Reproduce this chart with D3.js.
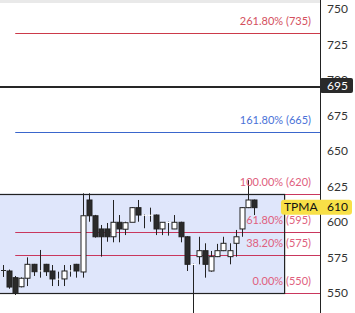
<!DOCTYPE html>
<html>
<head>
<meta charset="utf-8">
<script src="https://cdn.jsdelivr.net/npm/d3@7"></script>
<style>
  body { margin: 0; background: #fff; }
  svg { display: block; font-family: Lato, "Open Sans", sans-serif; }
</style>
</head>
<body>
<svg id="chart"></svg>
<script>
// candle data (index along x)
const opens  = [566.2, 565.5, 560.8, 554.4, 560.4, 570.2, 565.7, 570.2, 565.5, 559.9, 559.9, 565.7, 570.2, 564.8, 615.5, 604.4, 595.1, 595.1, 589.6, 599.8, 594.9, 599.8, 610.1, 604.9, 604.9, 604.9, 595.1, 599.8, 595.1, 599.8, 589.6, 570.2, 575.6, 579.8, 565.5, 575.6, 579.8, 575.6, 585.0, 595.1, 610.1, 615.5];
const closes = [566.0, 554.2, 550.2, 560.4, 570.2, 565.0, 565.9, 565.0, 559.9, 560.1, 565.5, 565.9, 565.5, 604.4, 604.4, 589.6, 589.6, 589.6, 599.8, 595.1, 599.5, 610.1, 604.9, 605.1, 605.1, 595.1, 599.8, 600.0, 599.8, 589.6, 570.2, 570.4, 579.8, 570.2, 575.6, 579.8, 585.0, 579.8, 589.6, 610.1, 615.5, 610.1];
const highs  = [569.7, 566.5, 562.0, 561.0, 575.1, 570.5, 580.3, 570.5, 569.7, 565.0, 569.7, 569.7, 570.5, 620.2, 620.2, 605.0, 597.9, 599.3, 615.5, 604.9, 600.2, 610.5, 615.5, 605.3, 610.1, 605.3, 600.0, 600.2, 604.9, 600.2, 590.0, 570.6, 589.6, 585.0, 579.6, 584.6, 589.6, 585.0, 594.4, 610.5, 629.5, 615.8];
const lows   = [561.3, 553.0, 548.6, 554.0, 554.9, 562.0, 560.8, 562.0, 554.9, 554.9, 554.9, 561.5, 560.8, 560.8, 600.2, 589.0, 575.6, 586.1, 585.7, 585.7, 590.8, 609.6, 600.2, 595.6, 600.2, 590.8, 590.8, 590.4, 595.0, 585.7, 565.5, 535.0, 570.2, 560.8, 565.0, 575.3, 579.5, 570.2, 575.6, 589.6, 609.8, 604.9];

// fibonacci levels
const fibLow = 550, fibHigh = 620;
const fibRatios = [0, 0.382, 0.618, 1, 1.618, 2.618];
const fibLabels = ["0.00% (550)", "38.20% (575)", "61.80% (595)", "100.00% (620)", "161.80% (665)", "261.80% (735)"];
const fibColors = ["#c9375d", "#c9375d", "#c9375d", "#c9375d", "#3a66cc", "#cc3a4a"];
const fibTextColors = ["#e0607e", "#e0607e", "#e0607e", "#e0607e", "#4a72d8", "#d4505e"];

const yTicks = [550, 575, 600, 625, 650, 675, 700, 725, 750];
const lastPrice = 695;
const tpmaValue = 610;

const W = 355, H = 313, axisX = 320;

const svg = d3.select('#chart').attr('width', W).attr('height', H);

const x = d3.scaleLinear().domain([0, opens.length - 1]).range([3, 254]);
const y = d3.scaleLinear().domain([550, 750]).range([293, 9]);

// light strip at top
svg.append('rect').attr('x', 0).attr('y', 0).attr('width', axisX).attr('height', 3).attr('fill', '#e9e9e9');

// range box (0% -> 100%)
const boxX = x(-1.5), boxW = x(46) - x(-1.5);
svg.append('rect')
  .attr('x', boxX).attr('y', y(fibHigh))
  .attr('width', boxW).attr('height', y(fibLow) - y(fibHigh))
  .attr('fill', '#dfe6fb');

// fib lines + labels
const fibs = fibRatios.map((r, i) => ({
  value: fibLow + r * (fibHigh - fibLow),
  label: fibLabels[i], color: fibColors[i], text: fibTextColors[i]
}));

svg.selectAll('.fib-line')
  .data(fibs)
  .join('line')
  .attr('class', 'fib-line')
  .attr('x1', x(2)).attr('x2', axisX)
  .attr('y1', d => Math.round(y(d.value)) + 0.5)
  .attr('y2', d => Math.round(y(d.value)) + 0.5)
  .attr('stroke', d => d.color)
  .attr('stroke-width', 1);

// box border over the lines
svg.append('rect')
  .attr('x', boxX).attr('y', Math.round(y(fibHigh)) + 0.5)
  .attr('width', boxW).attr('height', Math.round(y(fibLow)) - Math.round(y(fibHigh)))
  .attr('fill', 'none')
  .attr('stroke', '#222')
  .attr('stroke-width', 1.2);

// last price line
svg.append('line')
  .attr('x1', 0).attr('x2', axisX)
  .attr('y1', y(lastPrice)).attr('y2', y(lastPrice))
  .attr('stroke', '#262626').attr('stroke-width', 2);

// candles
const candles = svg.append('g').selectAll('g')
  .data(opens.map((o, i) => ({ i, o, c: closes[i], h: highs[i], l: lows[i] })))
  .join('g');

candles.append('line')
  .attr('x1', d => Math.round(x(d.i)) + 0.5)
  .attr('x2', d => Math.round(x(d.i)) + 0.5)
  .attr('y1', d => y(d.h))
  .attr('y2', d => y(d.l))
  .attr('stroke', '#222')
  .attr('stroke-width', 1);

candles.append('rect')
  .attr('x', d => Math.round(x(d.i)) - 2)
  .attr('width', 5)
  .attr('y', d => y(Math.max(d.o, d.c)))
  .attr('height', d => Math.max(1, Math.abs(y(d.o) - y(d.c))))
  .attr('fill', d => d.c >= d.o ? '#fff' : '#2a2a2a')
  .attr('stroke', '#222')
  .attr('stroke-width', d => Math.abs(d.o - d.c) < 1 ? 0 : 1);

svg.selectAll('.fib-label')
  .data(fibs)
  .join('text')
  .attr('class', 'fib-label')
  .attr('x', 311)
  .attr('y', d => y(d.value) - 8)
  .attr('text-anchor', 'end')
  .attr('font-size', 11)
  .attr('fill', d => d.text)
  .text(d => d.label);

// right axis
svg.append('rect').attr('x', axisX).attr('y', 0).attr('width', W - axisX).attr('height', H).attr('fill', '#fff');
svg.append('line')
  .attr('x1', axisX + 0.5).attr('x2', axisX + 0.5)
  .attr('y1', 0).attr('y2', H)
  .attr('stroke', '#222').attr('stroke-width', 1);

svg.selectAll('.tick-label')
  .data(yTicks)
  .join('text')
  .attr('class', 'tick-label')
  .attr('x', 327)
  .attr('y', d => y(d))
  .attr('dy', '0.35em')
  .attr('font-size', 12)
  .attr('fill', '#333')
  .text(d => d);

// last price badge (hides the 700 tick, as in the source chart)
svg.append('rect')
  .attr('x', axisX).attr('y', y(lastPrice) - 9)
  .attr('width', 33).attr('height', 15).attr('rx', 2)
  .attr('fill', '#2a2a2a');
svg.append('text')
  .attr('x', 327).attr('y', y(lastPrice) - 1.5).attr('dy', '0.36em')
  .attr('font-size', 12).attr('fill', '#fff')
  .text(lastPrice);

// TPMA badge
svg.append('rect')
  .attr('x', 281).attr('y', y(tpmaValue) - 8)
  .attr('width', 71).attr('height', 15).attr('rx', 3)
  .attr('fill', '#f8e047');
svg.append('text')
  .attr('x', 284).attr('y', y(tpmaValue)).attr('dy', '0.3em')
  .attr('font-size', 12).attr('fill', '#111')
  .text('TPMA');
svg.append('text')
  .attr('x', 327).attr('y', y(tpmaValue)).attr('dy', '0.3em')
  .attr('font-size', 12).attr('fill', '#111')
  .text(tpmaValue);
</script>
</body>
</html>
